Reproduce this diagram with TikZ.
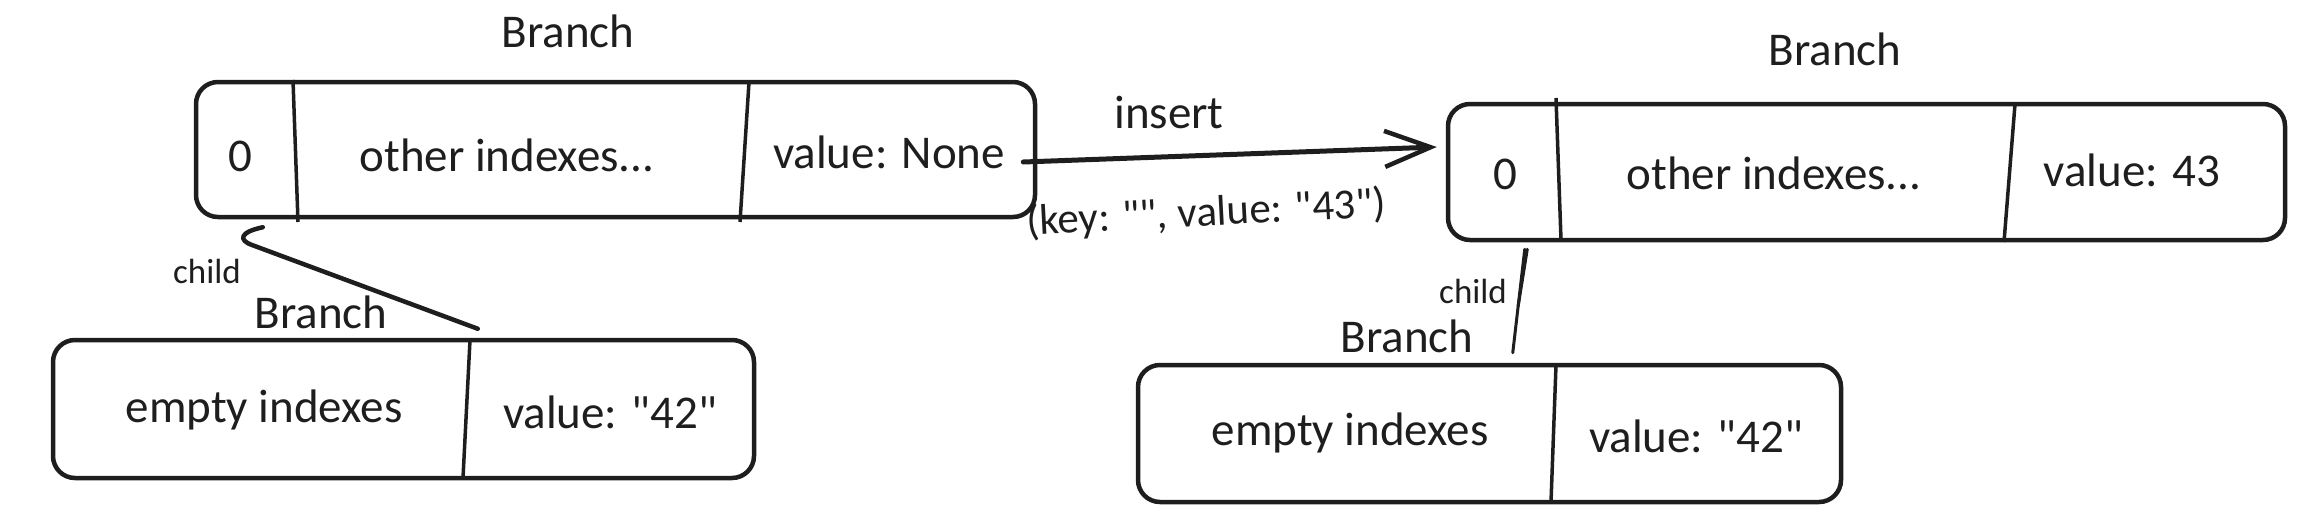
\documentclass[tikz,border=0pt]{standalone}
\usepackage{fontspec}
\setmainfont[Ligatures=NoCommon,Mapping=]{Carlito}
\usetikzlibrary{arrows.meta,calc}
\definecolor{ink}{HTML}{1E1E1E}
\newcommand\qq{\symbol{34}}
\begin{document}
\begin{tikzpicture}[x=1pt,y=-1pt,
  box/.style 2 args={draw=ink,line width=4.5pt,rounded corners=22pt,minimum width=#1,minimum height=#2,inner sep=0pt},
  divider/.style={draw=ink,line width=3.5pt},
  txt/.style={text=ink,font=\fontsize{47}{52}\selectfont,anchor=base,inner sep=0pt},
  small/.style={text=ink,font=\fontsize{35}{40}\selectfont,anchor=base,inner sep=0pt},
  link/.style={draw=ink,line width=4.5pt,line cap=round,line join=round},
  thin link/.style={draw=ink,line width=3pt,line cap=round},
  insertarrow/.style={draw=ink,line width=5pt,line cap=round,-{Straight Barb[length=46pt,width=36pt,line width=4.5pt]}}]
\useasboundingbox (0,0) rectangle (2312,520);

% ---- left top branch
\node[box={839pt}{135pt}] (A) at (615.5,149.5) {};
\draw[divider] (293,80) -- (298,222);
\draw[divider] (749,82) -- (740,222);
\node[txt] (A0) at (240,171) {0};
\node[txt] (Aother) at (507,171) {other indexes...};
\node[txt] (Aval) at (889,168) {value: None};
\node[txt] (Alab) at (568,47) {Branch};

% ---- left bottom branch
\node[box={701pt}{138pt}] (B) at (403.5,409) {};
\draw[divider] (470,340) -- (463,478);
\node[txt] (Bempty) at (264,422) {empty indexes};
\node[txt] (Bval) at (610,428) {value: \qq42\qq};
\node[txt] (Blab) at (321,328) {Branch};
\node[small] (Bchild) at (207,283) {child};

% ---- right top branch
\node[box={837pt}{136pt}] (C) at (1866.5,172) {};
\draw[divider] (1556,98) -- (1561,240);
\draw[divider] (2015,104) -- (2004,242);
\node[txt] (C0) at (1505,189) {0};
\node[txt] (Cother) at (1774,189) {other indexes...};
\node[txt] (Cval) at (2132,186) {value: 43};
\node[txt] (Clab) at (1835,65) {Branch};

% ---- right bottom branch
\node[box={703pt}{137pt}] (D) at (1489.5,433.5) {};
\draw[divider] (1556,365) -- (1551,502);
\node[txt] (Dempty) at (1350,445) {empty indexes};
\node[txt] (Dval) at (1696,452) {value: \qq42\qq};
\node[txt] (Dlab) at (1407,352) {Branch};
\node[small] (Dchild) at (1473,303) {child};

% ---- child link (left)
\coordinate (aS) at ([xshift=69pt,yshift=-8pt]A.south west);
\coordinate (aE) at ([xshift=427pt,yshift=9pt]B.north west);
\draw[link] (aS) .. controls (240,232) and (238,240) .. (252,245) -- (aE);

% ---- child link (right, sketchy double stroke)
\coordinate (cS) at ([xshift=79pt,yshift=-7pt]C.south west);
\coordinate (cE) at ([xshift=377pt,yshift=10pt]D.north west);
\coordinate (cM) at ($(cS)!0.55!(cE)$);
\draw[thin link] (cS) -- (cE);
\draw[thin link] ([xshift=2.5pt]cS) -- (cM);

% ---- insert arrow
\coordinate (iS) at ([xshift=-14pt,yshift=-12.5pt]A.east);
\coordinate (iE) at ([xshift=-9pt,yshift=25pt]C.west);
\draw[insertarrow] (iS) -- (iE);
\node[txt] (ins) at (1169,128) {insert};
\node[txt,font=\fontsize{43}{48}\selectfont,rotate=3] (kv) at (1207,226) {(key: \qq\qq, value: \qq43\qq)};
\end{tikzpicture}
\end{document}
